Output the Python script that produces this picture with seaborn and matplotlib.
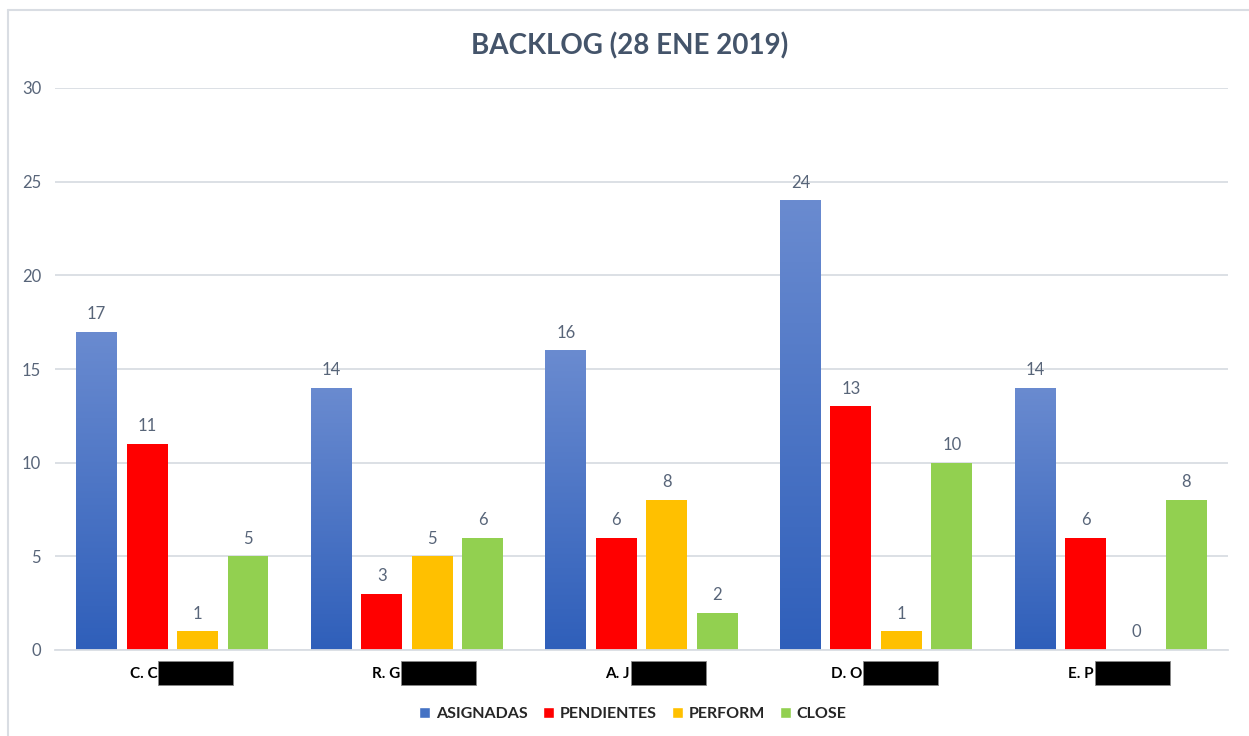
import numpy as np
import pandas as pd
import matplotlib
matplotlib.use("Agg")
import matplotlib.pyplot as plt
import matplotlib.transforms as mtransforms
from matplotlib.colors import LinearSegmentedColormap
from matplotlib.patches import Rectangle
import seaborn as sns

# --- data ---------------------------------------------------------------
personas = ["C. C", "R. G", "A. J", "D. O", "E. P"]
series = ["ASIGNADAS", "PENDIENTES", "PERFORM", "CLOSE"]
asignadas = [17, 14, 16, 24, 14]
pendientes = [11, 3, 6, 13, 6]
perform = [1, 5, 8, 1, 0]
close = [5, 6, 2, 10, 8]
y_ticks = [0, 5, 10, 15, 20, 25, 30]

colors = {"ASIGNADAS": "#4472C4", "PENDIENTES": "#FF0000",
          "PERFORM": "#FFC000", "CLOSE": "#92D050"}

df = pd.DataFrame({
    "persona": np.repeat(personas, len(series)),
    "serie": series * len(personas),
    "valor": np.ravel(np.column_stack([asignadas, pendientes, perform, close])),
})

sns.set_theme(style="white")
plt.rcParams["font.family"] = ["Lato", "DejaVu Sans"]

W, H = 1249, 736
fig = plt.figure(figsize=(W / 100, H / 100), dpi=100)
ax = fig.add_axes([55 / W, 1 - 650 / H, (1228 - 55) / W, (650 - 88) / H])

sns.barplot(data=df, x="persona", y="valor", hue="serie", order=personas,
            hue_order=series, palette=colors, width=0.86, gap=0.19,
            saturation=1, errorbar=None, legend=False, ax=ax)

text_col = "#586579"

# gradient fill for the ASIGNADAS bars, lighter at the top
grad = LinearSegmentedColormap.from_list("asig", ["#2F5FBA", "#6A8BD0"])
for container, name in zip(ax.containers, series):
    for bar in container:
        bar.set_edgecolor("none")
        if name == "ASIGNADAS":
            x0, y0 = bar.get_x(), bar.get_y()
            w, h = bar.get_width(), bar.get_height()
            img = ax.imshow(np.linspace(0, 1, 256).reshape(-1, 1), cmap=grad,
                            origin="lower", aspect="auto",
                            extent=[x0, x0 + w, y0, y0 + h], zorder=2)
            img.set_clip_path(bar)
            bar.set_facecolor("none")
    ax.bar_label(container, padding=7, fontsize=12, color=text_col)

ax.set_xlim(-0.5, len(personas) - 0.5)
ax.set_ylim(0, 30)
ax.set_yticks(y_ticks)
ax.yaxis.grid(True, color="#D9DDE3", linewidth=1.3)
ax.set_axisbelow(True)
for s in ["top", "right", "left"]:
    ax.spines[s].set_visible(False)
ax.spines["bottom"].set_color("#D9DDE3")
ax.spines["bottom"].set_linewidth(1.3)
ax.tick_params(axis="y", length=0, labelsize=12, labelcolor=text_col, pad=10)
ax.tick_params(axis="x", length=0, pad=12)
ax.set_xlabel("")
ax.set_ylabel("")

# name labels, with the surname hidden by a black box
px_per_cat = (1228 - 55) / len(personas)
box_left = [-14, -6, -11, -13, -16]
ax.set_xticks(range(len(personas)))
ax.set_xticklabels(personas, fontsize=11, fontweight="bold", color="black", ha="right")
for lab, off in zip(ax.get_xticklabels(), box_left):
    lab.set_transform(lab.get_transform() +
                      mtransforms.ScaledTranslation((off - 1) / 100, 0, fig.dpi_scale_trans))
bt = mtransforms.blended_transform_factory(ax.transData, fig.transFigure)
for i, off in enumerate(box_left):
    x0 = i + off / px_per_cat
    fig.add_artist(Rectangle((x0, 1 - 685 / H), 75 / px_per_cat, 24 / H,
                             transform=bt, facecolor="black", edgecolor="#888888",
                             linewidth=0.6, clip_on=False))

fig.suptitle("BACKLOG (28 ENE 2019)", x=0.504, y=1 - 46 / H, va="center",
             fontsize=20, fontweight="bold", color="#44546A")

handles = [Rectangle((0, 0), 1, 1, facecolor=colors[s]) for s in series]
fig.legend(handles, series, loc="center", bbox_to_anchor=(0.5065, 1 - 714 / H),
           ncol=4, frameon=False, handlelength=0.7, handleheight=0.7,
           handletextpad=0.35, columnspacing=0.95,
           prop={"size": 11.5, "weight": "bold"})

# chart frame
fig.add_artist(plt.Line2D([8 / W, 8 / W], [0, 1 - 10 / H], transform=fig.transFigure,
                          color="#D9DDE3", linewidth=1.5))
fig.add_artist(plt.Line2D([8 / W, 1], [1 - 10 / H, 1 - 10 / H], transform=fig.transFigure,
                          color="#D9DDE3", linewidth=1.5))

fig.savefig("out.png", dpi=100, facecolor="white")
